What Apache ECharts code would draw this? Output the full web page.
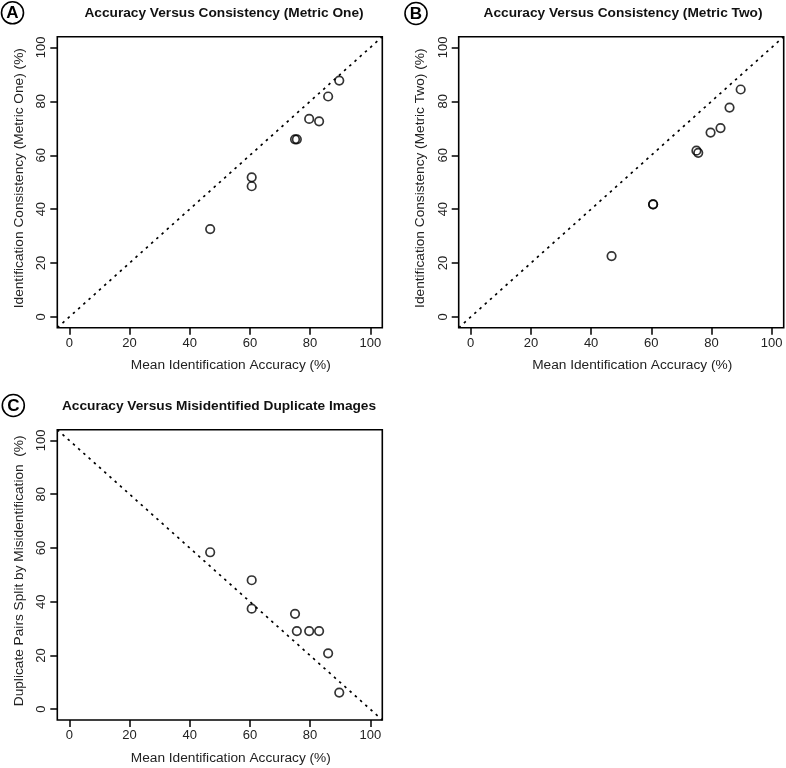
<!DOCTYPE html>
<html>
<head>
<meta charset="utf-8">
<script src="https://cdn.jsdelivr.net/npm/echarts@6/dist/echarts.min.js"></script>
<style>html,body{margin:0;padding:0;background:#fff;}#c{width:786px;height:768px;}</style>
</head>
<body>
<div id="c"></div>
<script>
// ---- data ----
var accuracy = [46.8, 60.6, 60.6, 75.0, 75.6, 79.7, 83.0, 86.0, 89.7];
var consistencyOne = [32.6, 51.8, 48.5, 65.9, 65.9, 73.5, 72.6, 81.8, 87.7];
var consistencyTwo = [22.6, 41.8, 41.8, 61.7, 60.9, 68.4, 70.1, 77.7, 84.4];
var duplicateSplit = [58.4, 48.0, 37.4, 35.5, 29.1, 29.1, 29.1, 20.8, 6.2];
var tickValues = [0, 20, 40, 60, 80, 100];
var identityLine = [[-4, -4], [104, 104]];
var inverseLine = [[-4, 104], [104, -4]];
var panelTitles = [
  'Accuracy Versus Consistency (Metric One)',
  'Accuracy Versus Consistency (Metric Two)',
  'Accuracy Versus Misidentified Duplicate Images'
];
var panelLetters = ['A', 'B', 'C'];
var xName = 'Mean Identification Accuracy (%)';
var yNames = [
  'Identification Consistency (Metric One) (%)',
  'Identification Consistency (Metric Two) (%)',
  'Duplicate Pairs Split by Misidentification  (%)'
];

function pairs(xs, ys) { return xs.map(function (x, i) { return [x, ys[i]]; }); }

var FONT = 'Liberation Sans, Arial, sans-serif';
var grids = [
  { left: 57.3, top: 36.7, width: 325, height: 291 },
  { left: 458.7, top: 36.7, width: 325, height: 291 },
  { left: 57.3, top: 429.7, width: 325, height: 290.3 }
];
var titlePos = [[224, 6], [623, 6], [219, 399.5]];
var letterPos = [[12.5, 12.8], [416, 13.5], [13.3, 405.5]];

function makeX(i) {
  return {
    type: 'value', gridIndex: i, min: -4, max: 104, position: 'bottom',
    name: xName, nameLocation: 'middle', nameGap: 31,
    nameTextStyle: { fontFamily: FONT, fontSize: 13.7, color: '#222', padding: [0, 0, 0, 22] },
    axisLine: { show: false, onZero: false },
    axisTick: { show: true, inside: false, length: 7, customValues: tickValues, lineStyle: { color: '#000', width: 1.5 } },
    axisLabel: { customValues: tickValues, margin: 9, fontFamily: FONT, fontSize: 13, color: '#222' },
    splitLine: { show: false }
  };
}
function makeY(i) {
  return {
    type: 'value', gridIndex: i, min: -4, max: 104, position: 'left',
    name: yNames[i], nameLocation: 'middle', nameGap: 31, nameRotate: 90,
    nameTextStyle: { fontFamily: FONT, fontSize: 13.7, color: '#222', padding: [0, 0, 0, 8] },
    axisLine: { show: false, onZero: false },
    axisTick: { show: true, inside: false, length: 7, customValues: tickValues, lineStyle: { color: '#000', width: 1.5 } },
    axisLabel: { customValues: tickValues, rotate: 90, margin: 9, fontFamily: FONT, fontSize: 13, color: '#222' },
    splitLine: { show: false }
  };
}
function scatter(i, data) {
  return {
    type: 'scatter', xAxisIndex: i, yAxisIndex: i, data: data,
    symbol: 'circle', symbolSize: 8.5,
    itemStyle: { color: 'rgba(0,0,0,0)', borderColor: '#000', borderWidth: 1.7 },
    z: 3, silent: true
  };
}
function refLine(i, data) {
  return {
    type: 'line', xAxisIndex: i, yAxisIndex: i, data: data,
    symbol: 'none', clip: true, silent: true,
    lineStyle: { color: '#000', width: 1.7, type: [2.5, 4.5] }, z: 2
  };
}

var option = {
  backgroundColor: '#fff',
  animation: false,
  title: panelTitles.map(function (t, i) {
    return {
      text: t, left: titlePos[i][0], top: titlePos[i][1], textAlign: 'center', padding: 0,
      textStyle: { fontFamily: FONT, fontSize: 13.7, fontWeight: 'bold', color: '#111' }
    };
  }),
  grid: grids.map(function (g) {
    return Object.assign({ show: true, borderColor: '#000', borderWidth: 1.6, containLabel: false }, g);
  }),
  xAxis: [makeX(0), makeX(1), makeX(2)],
  yAxis: [makeY(0), makeY(1), makeY(2)],
  series: [
    refLine(0, identityLine), scatter(0, pairs(accuracy, consistencyOne)),
    refLine(1, identityLine), scatter(1, pairs(accuracy, consistencyTwo)),
    refLine(2, inverseLine), scatter(2, pairs(accuracy, duplicateSplit))
  ],
  graphic: panelLetters.map(function (L, i) {
    return {
      type: 'group', x: letterPos[i][0], y: letterPos[i][1],
      children: [
        { type: 'circle', shape: { cx: 0, cy: 0, r: 11 }, style: { fill: '#fff', stroke: '#000', lineWidth: 1.6 } },
        { type: 'text', x: 0, y: 0.5, style: { text: L, fontFamily: FONT, fontSize: 17, fontWeight: 'bold', fill: '#000', align: 'center', verticalAlign: 'middle' } }
      ]
    };
  })
};

var chart = echarts.init(document.getElementById('c'), null, { renderer: 'canvas' });
chart.setOption(option);
</script>
</body>
</html>
